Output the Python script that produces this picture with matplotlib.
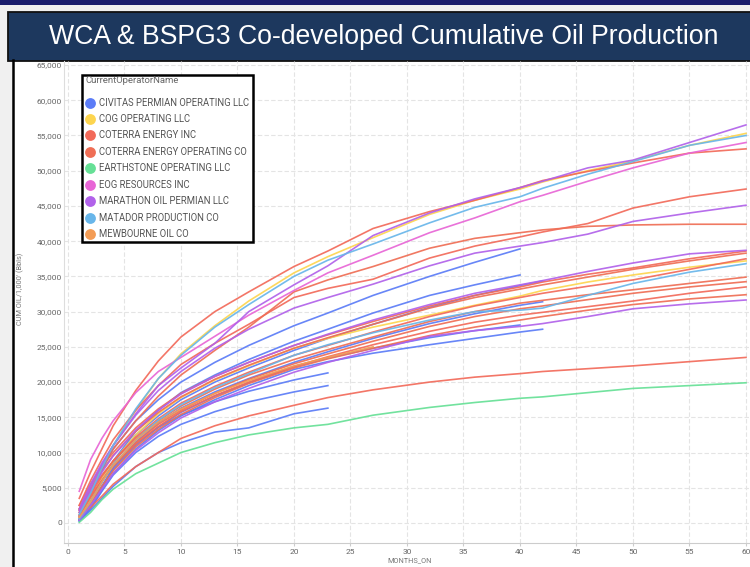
import matplotlib
matplotlib.use("Agg")
import matplotlib.pyplot as plt
from matplotlib.patches import Rectangle
from matplotlib.ticker import FuncFormatter

# ---------------- data (cumulative oil, thousands of Bbls per 1,000') ----------------
MONTHS = [1, 2, 3, 4, 6, 8, 10, 13, 16, 20, 23, 27, 32, 36, 40, 42, 46, 50, 55, 60]

OPERATORS = ["CIVITAS PERMIAN OPERATING LLC", "COG OPERATING LLC", "COTERRA ENERGY INC",
             "COTERRA ENERGY OPERATING CO", "EARTHSTONE OPERATING LLC", "EOG RESOURCES INC",
             "MARATHON OIL PERMIAN LLC", "MATADOR PRODUCTION CO", "MEWBOURNE OIL CO"]
COLORS = ["#5b7cf7", "#fdd54f", "#f26a5a", "#ef6e55", "#66e096", "#e866d6",
          "#b162ea", "#68b6ea", "#f39c55"]

CIVITAS = [
    [1.0, 4.0, 7.5, 10.5, 14.5, 17.5, 20.0, 22.8, 25.2, 28.0, 29.8, 32.3, 35.0, 37.0, 38.9],
    [0.8, 3.2, 6.0, 8.8, 13.0, 16.0, 18.5, 21.0, 23.2, 25.8, 27.5, 29.8, 32.3, 33.8, 35.2],
    [0.8, 3.0, 5.8, 8.5, 12.5, 15.2, 17.5, 20.0, 22.0, 24.5, 26.2, 28.2, 30.6, 32.3, 33.7, 34.35],
    [0.6, 2.6, 5.2, 7.8, 11.5, 14.2, 16.3, 18.6, 20.5, 22.8, 24.3, 26.2, 28.3, 29.7, 30.9, 31.4],
    [0.5, 2.5, 5.0, 7.5, 11.0, 13.6, 15.7, 18.0, 19.9, 22.2, 23.4, 24.8, 26.3, 27.3, 28.1],
    [0.3, 2.2, 4.6, 7.0, 10.5, 13.1, 15.2, 17.5, 19.5, 21.8, 22.9, 24.1, 25.3, 26.2, 27.1, 27.5],
    [0.5, 2.5, 5.2, 7.8, 11.2, 13.6, 15.3, 17.2, 18.7, 20.3, 21.3],
    [0.3, 2.0, 4.5, 6.8, 10.0, 12.3, 14.0, 15.8, 17.2, 18.6, 19.5],
    [0.3, 1.8, 3.5, 5.2, 8.0, 10.0, 11.4, 12.9, 13.5, 15.5, 16.3],
]
COG = [
    [1.5, 4.5, 8.0, 11.0, 16.0, 20.5, 24.0, 28.0, 31.5, 35.5, 37.8, 40.5, 43.8, 45.8, 47.4, 48.4, 50.0, 51.4, 53.6, 55.3],
    [0.8, 3.5, 6.3, 8.7, 12.5, 15.5, 17.8, 20.3, 22.3, 24.8, 26.2, 27.8, 29.5, 30.9, 32.2, 33.0, 34.2, 35.2, 36.3, 37.2],
]
COTERRA_INC = [
    [3.5, 7.2, 10.5, 13.8, 18.8, 23.0, 26.4, 30.0, 32.8, 36.4, 38.6, 41.8, 44.2, 45.8, 47.6, 48.6, 49.9, 51.1, 52.5, 53.1],
    [2.5, 6.0, 9.0, 11.8, 16.0, 19.5, 22.5, 25.5, 28.2, 32.0, 33.3, 34.6, 37.6, 39.3, 40.6, 41.3, 42.5, 44.7, 46.3, 47.4],
    [2.5, 5.5, 8.0, 10.0, 13.5, 16.2, 18.4, 20.8, 22.8, 25.2, 26.7, 28.6, 30.8, 32.3, 33.5, 34.2, 35.3, 36.2, 37.5, 38.6],
    [1.2, 4.0, 6.6, 8.8, 12.2, 14.8, 17.0, 19.4, 21.4, 23.8, 25.2, 27.1, 29.3, 30.8, 32.0, 32.6, 33.6, 34.5, 36.0, 37.5],
    [1.5, 3.8, 6.0, 8.0, 11.2, 13.7, 15.8, 18.1, 20.0, 22.2, 23.6, 25.3, 27.2, 28.5, 29.5, 29.9, 30.7, 31.5, 32.6, 33.5],
    [1.0, 2.2, 3.8, 5.5, 8.0, 10.0, 12.0, 13.8, 15.2, 16.7, 17.8, 18.9, 20.0, 20.7, 21.2, 21.5, 21.9, 22.3, 22.9, 23.5],
]
COTERRA_OP = [
    [2.0, 5.0, 8.0, 10.5, 14.5, 18.0, 21.0, 24.5, 27.8, 32.8, 34.5, 36.4, 39.0, 40.4, 41.2, 41.6, 42.1, 42.3, 42.4, 42.4],
    [1.8, 4.8, 7.4, 9.6, 13.0, 15.7, 17.9, 20.4, 22.4, 24.8, 26.3, 28.2, 30.5, 32.0, 33.2, 33.8, 34.9, 36.0, 37.2, 38.3],
    [2.0, 4.5, 6.8, 8.8, 12.0, 14.5, 16.6, 19.0, 21.0, 23.2, 24.6, 26.4, 28.6, 30.0, 31.2, 31.6, 32.4, 33.1, 34.0, 34.9],
    [1.0, 3.6, 6.0, 8.1, 11.4, 14.0, 16.0, 18.4, 20.4, 22.6, 24.0, 25.8, 27.9, 29.3, 30.4, 30.8, 31.7, 32.6, 33.5, 34.25],
    [0.5, 2.8, 5.2, 7.4, 10.8, 13.3, 15.4, 17.8, 19.8, 22.0, 23.3, 24.8, 26.6, 27.8, 28.8, 29.3, 30.2, 31.0, 31.8, 32.4],
]
EARTHSTONE = [
    [0.1, 1.5, 3.3, 4.8, 7.0, 8.5, 10.0, 11.4, 12.5, 13.5, 14.0, 15.3, 16.4, 17.1, 17.7, 17.9, 18.5, 19.1, 19.5, 19.9],
]
EOG = [
    [4.5, 9.0, 12.0, 14.5, 18.5, 21.5, 23.5, 26.5, 29.5, 33.0, 35.5, 38.0, 41.2, 43.3, 45.6, 46.5, 48.5, 50.4, 52.5, 54.0],
]
MARATHON = [
    [2.0, 5.5, 8.5, 11.0, 15.5, 19.5, 22.0, 25.5, 30.0, 33.8, 36.5, 40.8, 44.0, 46.0, 47.6, 48.5, 50.4, 51.5, 54.0, 56.5],
    [1.8, 5.0, 8.2, 11.0, 15.3, 18.8, 21.5, 24.8, 27.5, 30.5, 32.0, 33.9, 36.5, 38.3, 39.3, 39.8, 41.0, 42.8, 44.0, 45.1],
    [1.5, 4.5, 7.2, 9.5, 13.2, 16.0, 18.3, 20.8, 22.8, 25.2, 26.8, 28.8, 31.0, 32.6, 33.8, 34.4, 35.7, 36.9, 38.2, 38.7],
    [0.4, 2.5, 4.8, 7.0, 10.3, 12.8, 14.9, 17.2, 19.1, 21.4, 22.8, 24.5, 26.5, 27.3, 27.9, 28.3, 29.3, 30.4, 31.1, 31.65],
]
MATADOR = [
    [1.2, 4.2, 7.8, 11.0, 16.2, 20.5, 23.8, 27.8, 31.0, 35.0, 37.3, 39.6, 42.6, 44.8, 46.3, 47.5, 49.5, 51.3, 53.6, 55.0],
    [0.6, 3.0, 5.8, 8.2, 11.8, 14.6, 16.8, 19.2, 21.2, 23.8, 25.3, 27.0, 28.8, 30.0, 30.2, 30.5, 32.3, 34.0, 35.6, 36.8],
]
MEWBOURNE = [
    [0.8, 3.0, 5.8, 8.2, 11.8, 14.3, 16.2, 18.4, 20.2, 22.3, 23.5, 25.0],
]

WELLS = [CIVITAS, COG, COTERRA_INC, COTERRA_OP, EARTHSTONE, EOG, MARATHON, MATADOR, MEWBOURNE]

Y_TICKS = list(range(0, 66, 5))
X_TICKS = list(range(0, 61, 5))
TITLE = "WCA & BSPG3 Co-developed Cumulative Oil Production"

# ---------------- figure ----------------
W, H = 750, 567
fig = plt.figure(figsize=(W / 100, H / 100), dpi=100)
fig.patch.set_facecolor("#f0f0f0")

# background layer in pixel coordinates (y from top)
bg = fig.add_axes([0, 0, 1, 1], zorder=0)
bg.set_xlim(0, W)
bg.set_ylim(H, 0)
bg.axis("off")
bg.add_patch(Rectangle((0, 0), W, 5, color="#1a1d6c", lw=0))
bg.add_patch(Rectangle((13, 60), W - 13, H - 60, facecolor="white", edgecolor="none"))
bg.plot([12.5, 12.5], [60, H], color="black", lw=1.8)
bg.add_patch(Rectangle((8, 12), W, 49, facecolor="#1d385e", edgecolor="#111111", lw=1.3))
bg.text(384, 37, TITLE, color="white", fontsize=19.2, ha="center", va="center",
        family=["Liberation Sans Narrow", "Liberation Sans", "DejaVu Sans"])
bg.text(20, 289, "CUM OIL/1,000' (Bbls)", rotation=90, color="#777777", fontsize=5.3,
        ha="center", va="center", family=["Roboto", "DejaVu Sans"])
bg.text(410, 561, "MONTHS_ON", color="#777777", fontsize=5.3, ha="center", va="center",
        family=["Roboto", "DejaVu Sans"])

# main axes
ax = fig.add_axes([64 / W, 24 / H, (W - 64) / W, 482 / H], zorder=1)
ax.set_facecolor("none")
for op_wells, color in zip(WELLS, COLORS):
    for vals in op_wells:
        ax.plot(MONTHS[:len(vals)], vals, color=color, lw=1.2, alpha=0.92,
                solid_joinstyle="round")

ax.set_xlim(-0.35, 60.354)
ax.set_ylim(-2.84, 65.57)
ax.set_xticks(X_TICKS)
ax.set_yticks(Y_TICKS)
ax.yaxis.set_major_formatter(FuncFormatter(lambda v, p: f"{int(round(v * 1000)):,}"))
ax.grid(True, color="#e4e4e4", lw=0.8, linestyle=(0, (4, 2)))
ax.set_axisbelow(True)
for s in ["top", "right"]:
    ax.spines[s].set_visible(False)
ax.spines["left"].set_color("#dddddd")
ax.spines["bottom"].set_color("#cccccc")
ax.spines["left"].set_linewidth(0.8)
ax.spines["bottom"].set_linewidth(0.8)
ax.tick_params(axis="y", length=0, pad=1.5, labelsize=6.0, labelcolor="#666666")
ax.tick_params(axis="x", length=2.5, color="#cccccc", pad=2, labelsize=6.0, labelcolor="#666666")
for lab in ax.get_xticklabels() + ax.get_yticklabels():
    lab.set_family(["Roboto", "DejaVu Sans"])

# legend overlay in pixel coordinates
ov = fig.add_axes([0, 0, 1, 1], zorder=3)
ov.set_xlim(0, W)
ov.set_ylim(H, 0)
ov.axis("off")
ov.add_patch(Rectangle((81.5, 74.5), 171, 167, facecolor="white", edgecolor="black", lw=1.8))
ov.text(85, 80.5, "CurrentOperatorName", color="#666666", fontsize=6.8, ha="left", va="center",
        family=["Roboto", "DejaVu Sans"])
for i, (name, color) in enumerate(zip(OPERATORS, COLORS)):
    yy = 102.5 + 16.45 * i
    ov.plot([90], [yy], marker="o", markersize=7.8, color=color, markeredgewidth=0)
    ov.text(99, yy, name, color="#555555", fontsize=6.85, ha="left", va="center",
            family=["Roboto", "DejaVu Sans"])

fig.savefig("out.png", dpi=100, facecolor=fig.get_facecolor())
